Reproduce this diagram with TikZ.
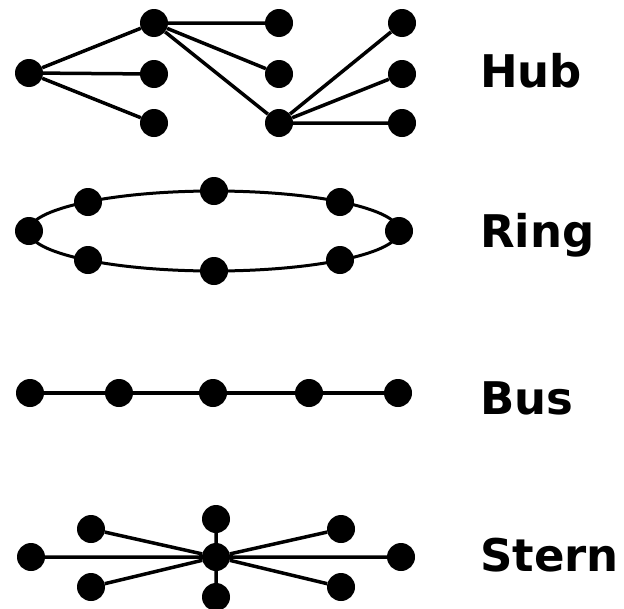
\documentclass[tikz,border=0pt]{standalone}
\usepackage{fontspec}
\setmainfont{DejaVu Sans}
\begin{document}
\begin{tikzpicture}[x=1pt,y=-1pt,
  dot/.style={circle,fill=black,inner sep=0pt,minimum size=28pt},
  link/.style={line width=3.5pt},
  lbl/.style={anchor=base west,inner sep=0pt,font=\fontsize{45}{54}\selectfont\bfseries}]
\useasboundingbox (0,0) rectangle (624,608);
% Hub
\node[dot] (h1) at (29,73) {};
\node[dot] (h2) at (154,23) {};
\node[dot] (h3) at (154,74) {};
\node[dot] (h4) at (154,123) {};
\node[dot] (h5) at (279,23) {};
\node[dot] (h6) at (279,74) {};
\node[dot] (h7) at (279,123) {};
\node[dot] (h8) at (402,23) {};
\node[dot] (h9) at (402,74) {};
\node[dot] (h10) at (402,123) {};
\draw[link] (h1) -- (h2) (h1) -- (h3) (h1) -- (h4)
  (h2) -- (h5) (h2) -- (h6) (h2) -- (h7)
  (h7) -- (h8) (h7) -- (h9) (h7) -- (h10);
\node[lbl] (lhub) at (480,87) {Hub};
% Ring
\draw[link,line width=3pt] (214,231) ellipse [x radius=185, y radius=40];
\node[dot] (r1) at (29,231) {};
\node[dot] (r2) at (88,202) {};
\node[dot] (r3) at (214,191) {};
\node[dot] (r4) at (340,202) {};
\node[dot] (r5) at (399,231) {};
\node[dot] (r6) at (88,260) {};
\node[dot] (r7) at (214,271) {};
\node[dot] (r8) at (340,260) {};
\node[lbl] (lring) at (480,247) {Ring};
% Bus
\node[dot] (b1) at (30,393) {};
\node[dot] (b2) at (119,393) {};
\node[dot] (b3) at (213,393) {};
\node[dot] (b4) at (309,393) {};
\node[dot] (b5) at (398,393) {};
\draw[link] (b1) -- (b2) -- (b3) -- (b4) -- (b5);
\node[lbl] (lbus) at (480,414) {Bus};
% Stern
\node[dot] (s0) at (216,557) {};
\node[dot] (s1) at (31,557) {};
\node[dot] (s2) at (91,529) {};
\node[dot] (s3) at (91,587) {};
\node[dot] (s4) at (216,519) {};
\node[dot] (s5) at (216,597) {};
\node[dot] (s6) at (341,529) {};
\node[dot] (s7) at (341,587) {};
\node[dot] (s8) at (401,557) {};
\draw[link] (s0) -- (s1) (s0) -- (s2) (s0) -- (s3) (s0) -- (s4)
  (s0) -- (s5) (s0) -- (s6) (s0) -- (s7) (s0) -- (s8);
\node[lbl] (lstern) at (480,571) {Stern};
\end{tikzpicture}
\end{document}
